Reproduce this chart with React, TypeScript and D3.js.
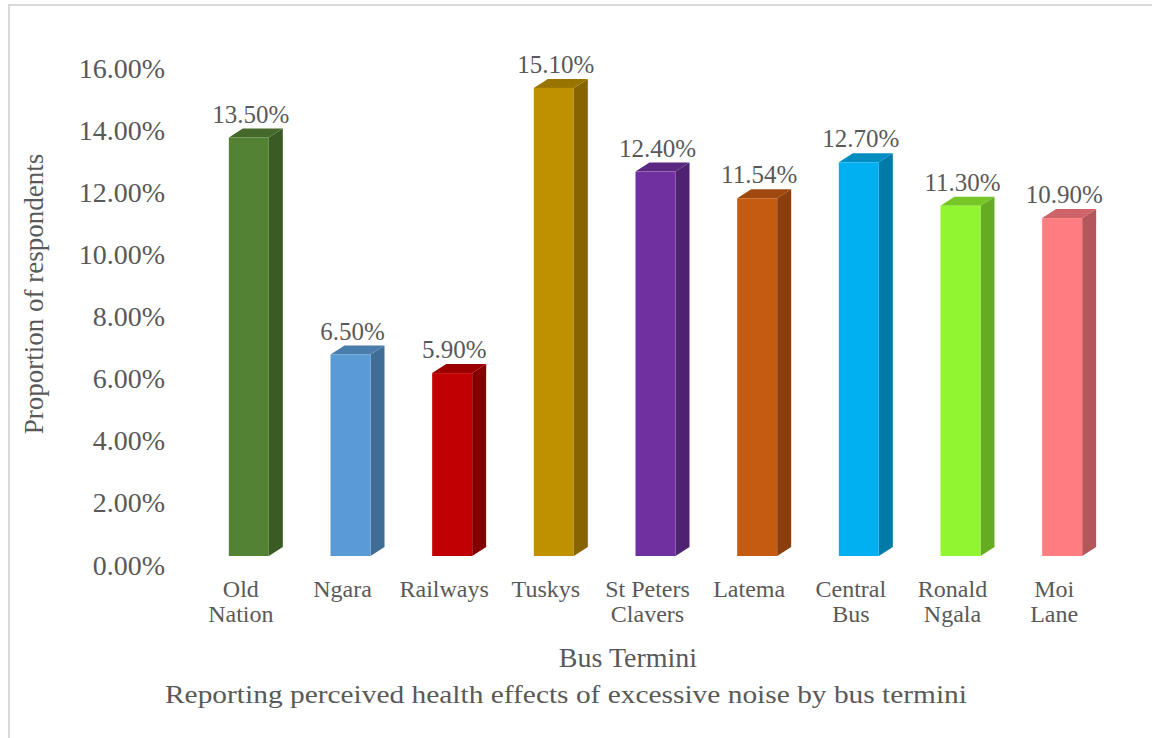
import React from "react";
import * as d3 from "d3";

const categories: string[][] = [
  ["Old", "Nation"],
  ["Ngara"],
  ["Railways"],
  ["Tuskys"],
  ["St Peters", "Clavers"],
  ["Latema"],
  ["Central", "Bus"],
  ["Ronald", "Ngala"],
  ["Moi", "Lane"],
];
const values: number[] = [13.5, 6.5, 5.9, 15.1, 12.4, 11.54, 12.7, 11.3, 10.9];
const colors: string[] = [
  "#548235", "#5b9bd5", "#c00000", "#bf9000", "#7030a0",
  "#c55a11", "#00b0f0", "#92f531", "#ff7c80",
];
const yTicks: number[] = [0, 2, 4, 6, 8, 10, 12, 14, 16];
const yTitle = "Proportion of respondents";
const xTitle = "Bus Termini";
const caption = "Reporting perceived health effects of excessive noise by bus termini";

const W = 1152;
const H = 738;
const textColor = "#595959";
const fam = { fontFamily: "Liberation Serif" };

export default function App() {
  const keys = categories.map((c) => c.join(" "));
  const x = d3.scaleBand<string>().domain(keys).range([190, 1105]);
  const yBar = d3.scaleLinear().domain([0, 16]).range([556, 60]);
  const yLab = d3.scaleLinear().domain([0, 16]).range([565, 68]);
  const barW = 40;
  const dx = 14;
  const dy = -9;

  return (
    <svg
      width={W}
      height={H}
      style={{ position: "fixed", left: 0, top: 0, background: "#fff" }}
    >
      <rect x={0} y={0} width={W} height={H} fill="#fff" />
      <rect x={9} y={5} width={W + 20} height={H + 20} fill="none" stroke="#d9d9d9" strokeWidth={2} />

      {yTicks.map((t) => (
        <text
          key={t}
          x={165}
          y={yLab(t) + 9.5}
          textAnchor="end"
          fontSize={28}
          style={fam}
          fill={textColor}
        >
          {t.toFixed(2) + "%"}
        </text>
      ))}

      <text
        transform={`translate(43, 294) rotate(-90)`}
        textAnchor="middle"
        fontSize={27}
        style={fam}
        fill={textColor}
      >
        {yTitle}
      </text>

      {keys.map((k, i) => {
        const cx = (x(k) as number) + x.bandwidth() / 2;
        const x0 = cx - 12;
        const x1 = x0 + barW;
        const top = yBar(values[i]);
        const bot = yBar(0);
        const base = d3.color(colors[i])!;
        const side = base.darker(1.0).formatHex();
        const topC = base.darker(0.6).formatHex();
        return (
          <g key={k}>
            <polygon
              points={`${x1},${top} ${x1 + dx},${top + dy} ${x1 + dx},${bot + dy} ${x1},${bot}`}
              fill={side}
            />
            <polygon
              points={`${x0},${top} ${x1},${top} ${x1 + dx},${top + dy} ${x0 + dx},${top + dy}`}
              fill={topC}
            />
            <rect x={x0} y={top} width={barW} height={bot - top} fill={colors[i]} />
            <text
              x={x0 + barW / 2 + 2}
              y={top - 15}
              textAnchor="middle"
              fontSize={25}
              style={fam}
              fill={textColor}
            >
              {values[i].toFixed(2) + "%"}
            </text>
            {categories[i].map((line, j) => (
              <text
                key={j}
                x={cx}
                y={597 + j * 25}
                textAnchor="middle"
                fontSize={24}
                style={fam}
                fill={textColor}
              >
                {line}
              </text>
            ))}
          </g>
        );
      })}

      <text x={628} y={667} textAnchor="middle" fontSize={28} style={fam} fill={textColor}>
        {xTitle}
      </text>
      <text
        x={566}
        y={703}
        textAnchor="middle"
        fontSize={25}
        style={fam}
        fill={textColor}
        textLength={802}
        lengthAdjust="spacingAndGlyphs"
      >
        {caption}
      </text>
    </svg>
  );
}
